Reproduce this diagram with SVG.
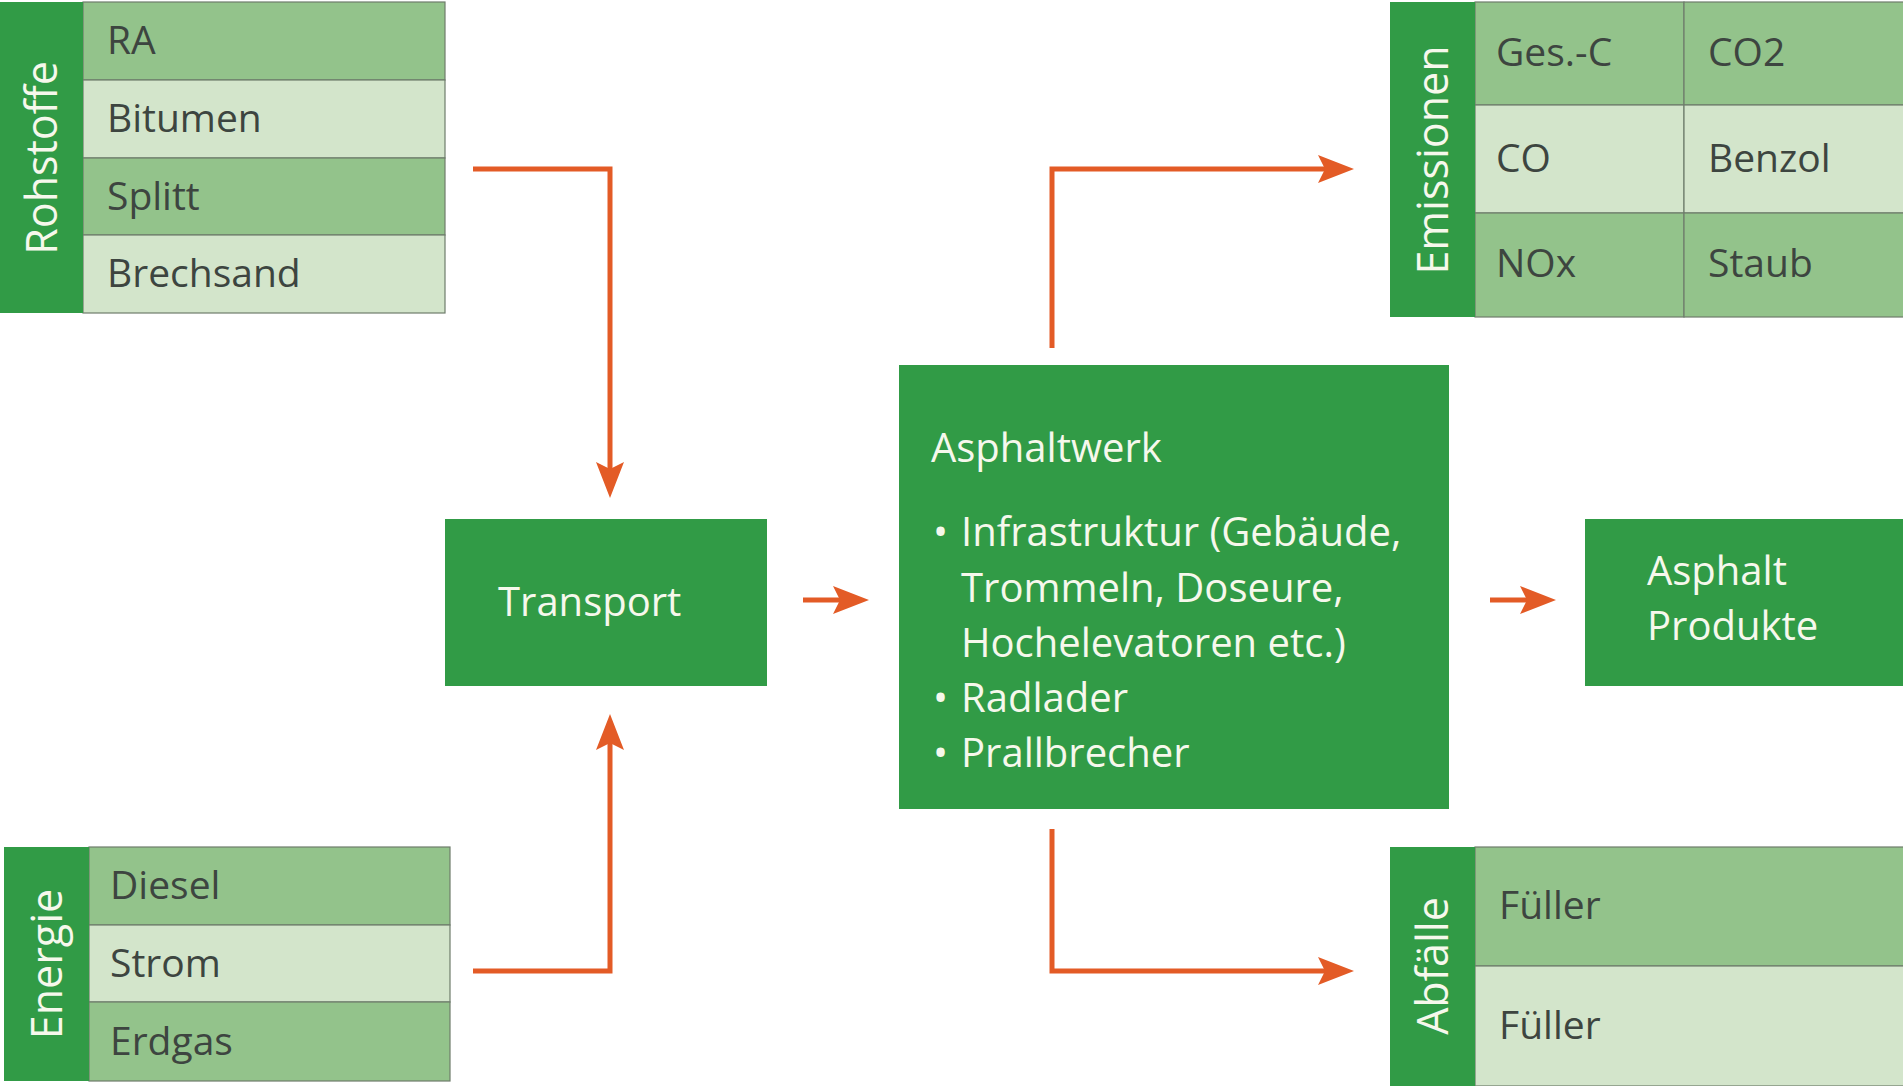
<svg xmlns="http://www.w3.org/2000/svg" width="1903" height="1086" viewBox="0 0 1903 1086">
<defs>
<style>
.bar{fill:#319b46}
.dk{fill:#93c38b;stroke:#6e7c6c;stroke-width:1.2}
.lt{fill:#d3e5cb;stroke:#6e7c6c;stroke-width:1.2}
.box{fill:#319b46}
.cell{font-family:"Open Sans","Liberation Sans",sans-serif;font-size:39px;fill:#3d4540}
.lbl{font-family:"Open Sans","Liberation Sans",sans-serif;font-size:43px;fill:#f6f8ec;text-anchor:middle}
.wt{font-family:"Open Sans","Liberation Sans",sans-serif;font-size:40px;fill:#f6f8ec}
.con{fill:none;stroke:#e35b26;stroke-width:5;stroke-linejoin:miter}
</style>
<marker id="ah" viewBox="0 -15 40 30" markerUnits="userSpaceOnUse" markerWidth="40" markerHeight="30" refX="7" refY="0" orient="auto">
<path d="M0,-14 L36,0 L0,14 L7,0 Z" fill="#e35b26"/>
</marker>
</defs>
<rect width="1903" height="1086" fill="#ffffff"/>

<g id="rohstoffe">
<rect class="dk" x="83" y="2" width="362" height="78"/>
<rect class="lt" x="83" y="80" width="362" height="78"/>
<rect class="dk" x="83" y="158" width="362" height="77"/>
<rect class="lt" x="83" y="235" width="362" height="78"/>
<rect class="bar" x="0" y="2" width="83" height="311"/>
<text class="lbl" transform="translate(57,158) rotate(-90)">Rohstoffe</text>
<text class="cell" x="107" y="54">RA</text>
<text class="cell" x="107" y="132">Bitumen</text>
<text class="cell" x="107" y="210">Splitt</text>
<text class="cell" x="107" y="287">Brechsand</text>
</g>

<g id="energie">
<rect class="dk" x="89" y="847" width="361" height="78"/>
<rect class="lt" x="89" y="925" width="361" height="77"/>
<rect class="dk" x="89" y="1002" width="361" height="79"/>
<rect class="bar" x="4" y="847" width="85" height="234"/>
<text class="lbl" transform="translate(62,964) rotate(-90)">Energie</text>
<text class="cell" x="110" y="899">Diesel</text>
<text class="cell" x="110" y="977">Strom</text>
<text class="cell" x="110" y="1055">Erdgas</text>
</g>

<g id="emissionen">
<rect class="dk" x="1475" y="2" width="209" height="103"/>
<rect class="dk" x="1684" y="2" width="230" height="103"/>
<rect class="lt" x="1475" y="105" width="209" height="108"/>
<rect class="lt" x="1684" y="105" width="230" height="108"/>
<rect class="dk" x="1475" y="213" width="209" height="104"/>
<rect class="dk" x="1684" y="213" width="230" height="104"/>
<rect class="bar" x="1390" y="2" width="85" height="315"/>
<text class="lbl" transform="translate(1448,160) rotate(-90)">Emissionen</text>
<text class="cell" x="1496" y="66">Ges.-C</text>
<text class="cell" x="1708" y="66">CO2</text>
<text class="cell" x="1496" y="172">CO</text>
<text class="cell" x="1708" y="172">Benzol</text>
<text class="cell" x="1496" y="277">NOx</text>
<text class="cell" x="1708" y="277">Staub</text>
</g>

<g id="abfaelle">
<rect class="dk" x="1475" y="847" width="440" height="119"/>
<rect class="lt" x="1475" y="966" width="440" height="120"/>
<rect class="bar" x="1390" y="847" width="85" height="239"/>
<text class="lbl" transform="translate(1448,966) rotate(-90)">Abfälle</text>
<text class="cell" x="1499" y="919">Füller</text>
<text class="cell" x="1499" y="1039">Füller</text>
</g>

<g id="transport">
<rect class="box" x="445" y="519" width="322" height="167"/>
<text class="wt" x="498" y="616">Transport</text>
</g>

<g id="asphaltwerk">
<rect class="box" x="899" y="365" width="550" height="444"/>
<text class="wt" x="931" y="462">Asphaltwerk</text>
<text class="wt" x="933" y="546">•</text>
<text class="wt" x="961" y="546">Infrastruktur (Gebäude,</text>
<text class="wt" x="961" y="602">Trommeln, Doseure,</text>
<text class="wt" x="961" y="657">Hochelevatoren etc.)</text>
<text class="wt" x="933" y="712">•</text>
<text class="wt" x="961" y="712">Radlader</text>
<text class="wt" x="933" y="767">•</text>
<text class="wt" x="961" y="767">Prallbrecher</text>
</g>

<g id="produkte">
<rect class="box" x="1585" y="519" width="330" height="167"/>
<text class="wt" x="1647" y="585">Asphalt</text>
<text class="wt" x="1647" y="640">Produkte</text>
</g>

<g id="connectors">
<polyline class="con" points="473,169 610,169 610,469" marker-end="url(#ah)"/>
<polyline class="con" points="473,971 610,971 610,743" marker-end="url(#ah)"/>
<polyline class="con" points="803,600 840,600" marker-end="url(#ah)"/>
<polyline class="con" points="1490,600 1527,600" marker-end="url(#ah)"/>
<polyline class="con" points="1052,348 1052,169 1325,169" marker-end="url(#ah)"/>
<polyline class="con" points="1052,829 1052,971 1325,971" marker-end="url(#ah)"/>
</g>
</svg>
